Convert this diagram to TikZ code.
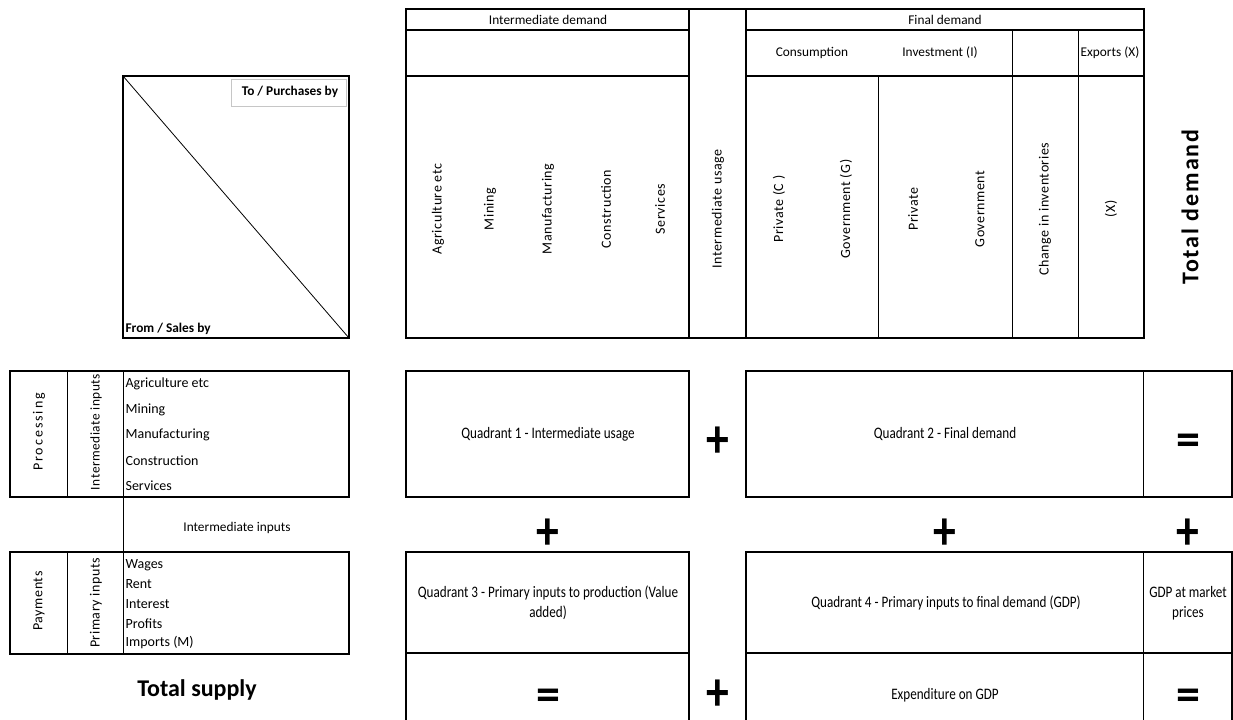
\documentclass[tikz,border=0pt]{standalone}
\usepackage{fontspec}
\setmainfont{Carlito}
\newfontfamily\narrowfont[FakeStretch=0.82]{Carlito}
\newfontfamily\spacedfont[LetterSpace=8]{Carlito}
\newfontfamily\loosefont[LetterSpace=4]{Carlito}
\newfontfamily\widefont[LetterSpace=14]{Carlito}
\newcommand\plussign{\raisebox{-0.38em}{\scalebox{0.95}[1.15]{+}}}
\newcommand\eqsign{\raisebox{-0.34em}{=}}
\begin{document}
\begin{tikzpicture}[x=0.75pt,y=-0.75pt,
  every node/.style={inner sep=1pt},
  hdr/.style={font=\fontsize{10}{12}\selectfont},
  rot/.style={rotate=90,font=\loosefont\fontsize{10.5}{12}\selectfont},
  item/.style={anchor=west,font=\fontsize{10.5}{12}\selectfont},
  quad/.style={align=center,font=\narrowfont\fontsize{12}{15}\selectfont},
  sign/.style={font=\fontsize{36}{36}\selectfont\bfseries,inner sep=0pt,text height=9pt,text depth=9pt},
  corner/.style={font=\fontsize{10}{12}\selectfont\bfseries},
  rimline/.style={line width=1.2pt},
  gridline/.style={line width=0.6pt}]
\useasboundingbox (0,0) rectangle (1233,720);
\draw[rimline] (406,9) rectangle (1144,338);
\draw[rimline] (406,30) -- (689,30) (746,30) -- (1144,30) (406,76) -- (689,76) (746,76) -- (1144,76)
  (689,9) -- (689,338) (746,9) -- (746,338);
\draw[gridline] (878,76) -- (878,338) (1012,30) -- (1012,338) (1078,30) -- (1078,338);
\draw[rimline] (123,76) rectangle (349,338);
\draw[gridline] (123,76) -- (349,338);
\draw[gray!45,fill=white] (231,79) rectangle (346,106);
\draw[rimline] (10,371) rectangle (349,497);
\draw[gridline] (67,371) -- (67,497) (123,371) -- (123,552);
\draw[rimline] (10,552) rectangle (349,654);
\draw[gridline] (67,552) -- (67,654) (123,552) -- (123,654);
\draw[rimline] (406,371) rectangle (689,497);
\draw[rimline] (746,371) rectangle (1232,497);
\draw[gridline] (1143,371) -- (1143,497);
\draw[rimline] (406,720) -- (406,552) -- (689,552) -- (689,720) (406,653) -- (689,653);
\draw[rimline] (746,720) -- (746,552) -- (1232,552) -- (1232,720) (746,653) -- (1232,653);
\draw[gridline] (1143,552) -- (1143,720);

\node (idem)[hdr] at (548,20) {Intermediate demand};
\node (fdem)[hdr] at (945,20) {Final demand};
\node (cons)[hdr] at (812,53) {Consumption};
\node (inv)[hdr] at (940,53) {Investment (I)};
\node (expx)[hdr] at (1110,53) {Exports (X)};
\node (agr)[rot] at (438,209) {Agriculture etc};
\node (min)[rot] at (490,209) {Mining};
\node (man)[rot] at (548,209) {Manufacturing};
\node (con)[rot] at (606,209) {Construction};
\node (ser)[rot] at (660,209) {Services};
\node (iuse)[rot] at (718,209) {Intermediate usage};
\node (pc)[rot] at (779,209) {Private (C )};
\node (gg)[rot] at (846,209) {Government (G)};
\node (pi)[rot] at (913,209) {Private};
\node (gi)[rot] at (980,209) {Government};
\node (chi)[rot] at (1045,209) {Change in inventories};
\node (xx)[rot] at (1111,209) {(X)};
\node (tdem)[rotate=90,font=\spacedfont\fontsize{18}{20}\selectfont\bfseries] at (1190,207) {Total demand};

\node (to)[corner] at (290,92) {To / Purchases by};
\node (from)[corner,anchor=west] at (124,329) {From / Sales by};

\node (proc)[rot,font=\widefont\fontsize{10.5}{12}\selectfont] at (39,432) {Processing};
\node (iin)[rot,font=\loosefont\fontsize{10}{12}\selectfont] at (96,432) {Intermediate inputs};
\node (i1)[item] at (124,384) {Agriculture etc};
\node (i2)[item] at (124,409.5) {Mining};
\node (i3)[item] at (124,435) {Manufacturing};
\node (i4)[item] at (124,460.5) {Construction};
\node (i5)[item] at (124,486) {Services};
\node (iinb)[hdr] at (237,528) {Intermediate inputs};
\node (pay)[rot] at (39,601) {Payments};
\node (pin)[rot] at (96,603) {Primary inputs};
\node (p1)[item] at (124,565) {Wages};
\node (p2)[item] at (124,584.5) {Rent};
\node (p3)[item] at (124,604) {Interest};
\node (p4)[item] at (124,623.5) {Profits};
\node (p5)[item] at (124,643) {Imports (M)};
\node (tsup)[font=\fontsize{18}{20}\selectfont\bfseries] at (197,690) {Total supply};

\node (q1)[quad] at (548,434) {Quadrant 1 - Intermediate usage};
\node (q2)[quad] at (945,434) {Quadrant 2 - Final demand};
\node (q3)[quad] at (548,603) {Quadrant 3 - Primary inputs to production (Value\\added)};
\node (q4)[quad] at (946,603) {Quadrant 4 - Primary inputs to final demand (GDP)};
\node (gdp)[quad] at (1188,603) {GDP at market\\prices};
\node (egdp)[quad] at (945,695) {Expenditure on GDP};

\node (s1)[sign] at (718,439) {\plussign};
\node (s2)[sign] at (1188,439) {\eqsign};
\node (s3)[sign] at (548,531) {\plussign};
\node (s4)[sign] at (945,531) {\plussign};
\node (s5)[sign] at (1188,531) {\plussign};
\node (s6)[sign] at (548,694) {\eqsign};
\node (s7)[sign] at (718,692) {\plussign};
\node (s8)[sign] at (1188,694) {\eqsign};
\end{tikzpicture}
\end{document}
